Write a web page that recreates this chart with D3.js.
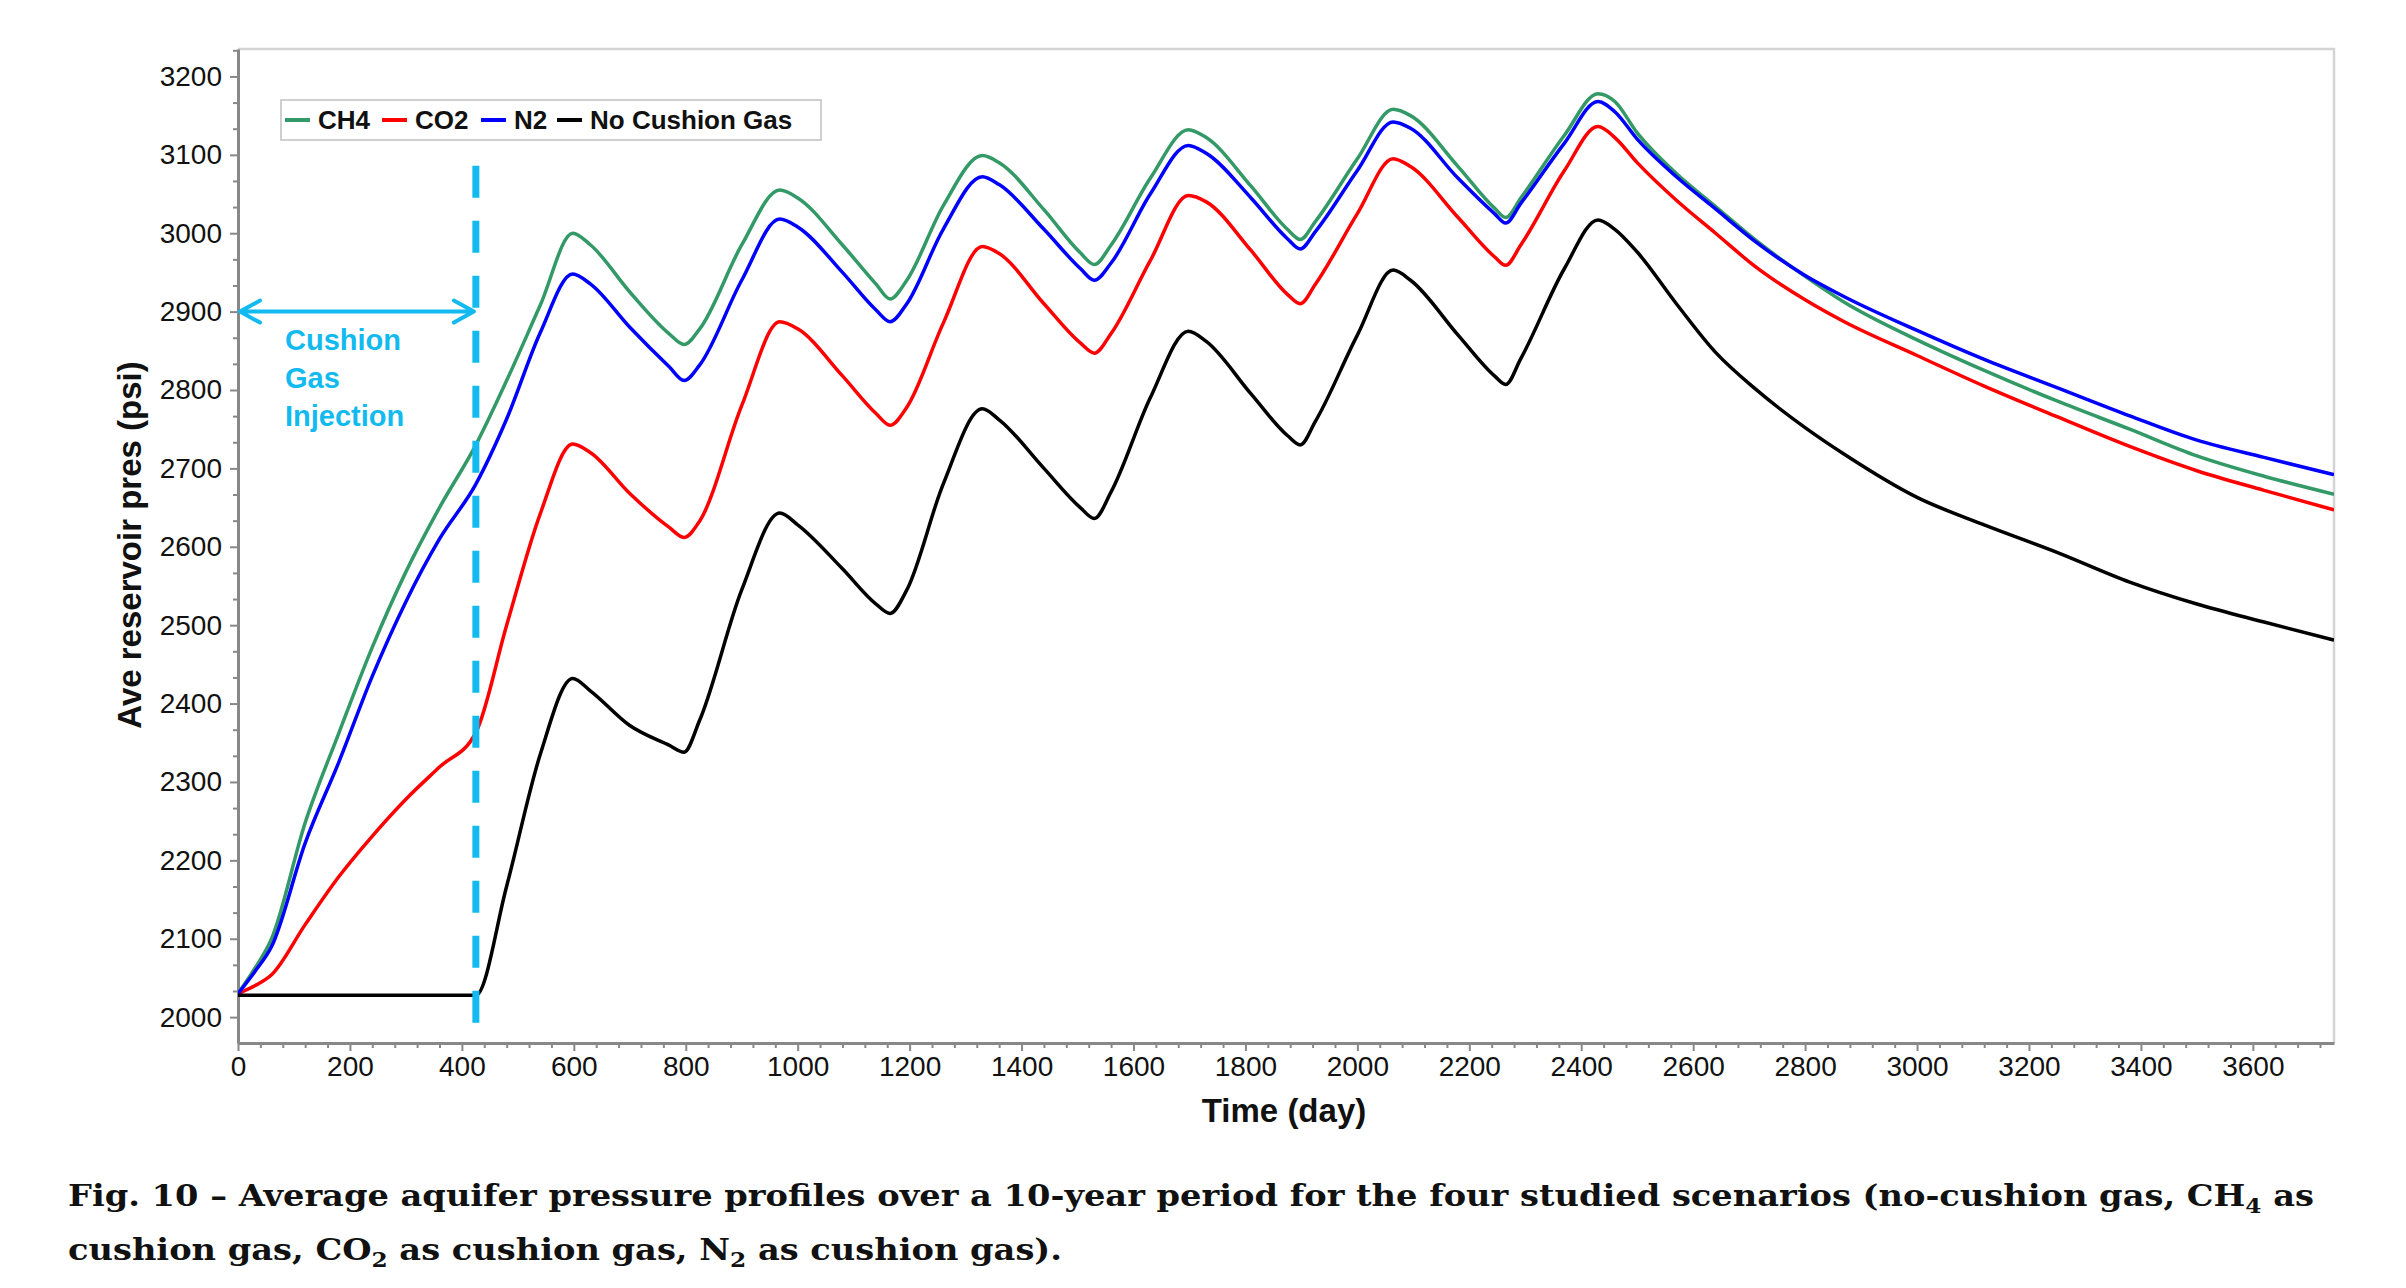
<!DOCTYPE html>
<html>
<head>
<meta charset="utf-8">
<script src="https://cdn.jsdelivr.net/npm/d3@7"></script>
<style>
  html, body { margin: 0; padding: 0; background: #fff; }
  svg { display: block; }
</style>
</head>
<body>
<svg id="chart" width="2406" height="1288"></svg>
<script>
// time axis (days) shared by every scenario
const days = [0, 30, 60, 120, 180, 240, 300, 360, 425,
  480, 540, 598, 630, 700, 770, 797, 825, 900, 968,
  1000, 1080, 1140, 1165, 1195, 1260, 1330, 1360, 1440, 1505,
  1530, 1560, 1630, 1698, 1730, 1810, 1875, 1898, 1925, 2000,
  2064, 2095, 2180, 2245, 2265, 2292, 2370, 2430, 2460, 2500,
  2570, 2640, 2710, 2800, 2870, 3000, 3120, 3250, 3380, 3500,
  3620, 3745];

// average reservoir pressure (psi)
const ch4 = [2030, 2062, 2100, 2248, 2362, 2472, 2568, 2650, 2730,
  2812, 2908, 3000, 2985, 2925, 2872, 2858, 2878, 2985, 3055,
  3045, 2985, 2935, 2916, 2940, 3035, 3099, 3090, 3030, 2975,
  2960, 2985, 3070, 3132, 3122, 3060, 3005, 2992, 3015, 3095,
  3158, 3150, 3085, 3032, 3020, 3045, 3125, 3178, 3168, 3128,
  3076, 3034, 2992, 2945, 2912, 2864, 2825, 2786, 2750, 2716,
  2690, 2667];

const co2 = [2030, 2040, 2054, 2118, 2179, 2231, 2278, 2319, 2363,
  2500, 2642, 2731, 2720, 2668, 2625, 2612, 2633, 2780, 2887,
  2878, 2818, 2770, 2755, 2778, 2885, 2983, 2974, 2910, 2860,
  2847, 2872, 2965, 3048, 3040, 2978, 2922, 2910, 2935, 3025,
  3095, 3085, 3020, 2970, 2959, 2985, 3080, 3136, 3122, 3090,
  3042, 3000, 2958, 2915, 2887, 2844, 2805, 2766, 2728, 2697,
  2672, 2647];

const n2 = [2030, 2058, 2090, 2222, 2325, 2435, 2530, 2610, 2680,
  2763, 2873, 2948, 2935, 2880, 2830, 2812, 2832, 2940, 3018,
  3008, 2950, 2902, 2887, 2910, 3005, 3072, 3062, 3005, 2955,
  2940, 2962, 3050, 3112, 3102, 3045, 2993, 2980, 3002, 3080,
  3142, 3134, 3070, 3025, 3013, 3038, 3115, 3168, 3155, 3120,
  3072, 3031, 2990, 2946, 2919, 2876, 2839, 2803, 2767, 2736,
  2714, 2692];

const noCushion = [2028, 2028, 2028, 2028, 2028, 2028, 2028, 2028, 2028,
  2167, 2335, 2432, 2416, 2372, 2347, 2338, 2379, 2545, 2643,
  2628, 2572, 2527, 2515, 2545, 2680, 2776, 2762, 2700, 2650,
  2636, 2670, 2790, 2875, 2862, 2795, 2742, 2730, 2760, 2870,
  2953, 2940, 2870, 2818, 2807, 2840, 2955, 3017, 3005, 2976,
  2910, 2848, 2802, 2752, 2718, 2663, 2628, 2593, 2555, 2527,
  2504, 2481];

const seriesNames = ["CH4", "CO2", "N2", "No Cushion Gas"];
const seriesColors = ["#339966", "#ff0000", "#0000ff", "#000000"];

const xTicks = [0, 200, 400, 600, 800, 1000, 1200, 1400, 1600, 1800,
  2000, 2200, 2400, 2600, 2800, 3000, 3200, 3400, 3600];
const yTicks = [2000, 2100, 2200, 2300, 2400, 2500, 2600, 2700, 2800,
  2900, 3000, 3100, 3200];

// cushion gas injection marker
const injectionEnd = 425;
const arrowLevel = 2900;
const markerRange = [1988, 3086];

const svg = d3.select("#chart");
const font = "'Liberation Sans', Arial, sans-serif";
const cyan = "#12baf0";

const margin = { left: 238, right: 72, top: 49, bottom: 245 };
const W = 2406, H = 1288;

const x = d3.scaleLinear().domain([0, 3745]).range([margin.left, W - margin.right]);
const y = d3.scaleLinear().domain([1967, 3235]).range([H - margin.bottom, margin.top]);

svg.append("rect").attr("width", W).attr("height", H).attr("fill", "#fff");

// light frame on top and right
svg.append("path")
  .attr("d", `M${x(0)},${y(3235)}H${x(3745)}V${y(1967)}`)
  .attr("fill", "none")
  .attr("stroke", "#d4d4d4")
  .attr("stroke-width", 2.5);

// minor ticks
const yMinor = [];
yTicks.forEach(v => { yMinor.push(v + 100 / 3, v + 200 / 3); });
const xMinor = [];
xTicks.forEach(v => { [40, 80, 120, 160].forEach(o => { if (v + o < 3745) xMinor.push(v + o); }); });

svg.append("g")
  .attr("transform", `translate(${x(0)},0)`)
  .call(d3.axisLeft(y).tickValues(yMinor.filter(v => v < 3235)).tickSize(5).tickSizeOuter(0).tickFormat(""))
  .call(g => g.select(".domain").remove())
  .call(g => g.selectAll("line").attr("stroke", "#888").attr("stroke-width", 2));

svg.append("g")
  .attr("transform", `translate(0,${y(1967)})`)
  .call(d3.axisBottom(x).tickValues(xMinor).tickSize(5).tickSizeOuter(0).tickFormat(""))
  .call(g => g.select(".domain").remove())
  .call(g => g.selectAll("line").attr("stroke", "#888").attr("stroke-width", 2));

// major axes
const yAxis = svg.append("g")
  .attr("transform", `translate(${x(0)},0)`)
  .call(d3.axisLeft(y).tickValues(yTicks).tickFormat(d3.format("d"))
    .tickSize(8).tickPadding(8).tickSizeOuter(0));

const xAxis = svg.append("g")
  .attr("transform", `translate(0,${y(1967)})`)
  .call(d3.axisBottom(x).tickValues(xTicks).tickFormat(d3.format("d"))
    .tickSize(8).tickPadding(5).tickSizeOuter(0));

[yAxis, xAxis].forEach(g => {
  g.select(".domain").attr("stroke", "#888").attr("stroke-width", 3);
  g.selectAll(".tick line").attr("stroke", "#888").attr("stroke-width", 2);
  g.selectAll(".tick text")
    .attr("fill", "#111")
    .style("font-family", font)
    .style("font-size", "28px");
});

// axis titles
svg.append("text")
  .attr("x", 1284).attr("y", 1122)
  .attr("text-anchor", "middle")
  .style("font-family", font).style("font-size", "33px").style("font-weight", "bold")
  .attr("fill", "#111")
  .text("Time (day)");

svg.append("text")
  .attr("transform", "translate(129,545) rotate(-90)")
  .attr("text-anchor", "middle")
  .attr("dy", "0.35em")
  .style("font-family", font).style("font-size", "33px").style("font-weight", "bold")
  .attr("fill", "#111")
  .text("Ave reservoir pres (psi)");

// pressure curves
svg.append("clipPath").attr("id", "plot-clip")
  .append("rect")
  .attr("x", x(0)).attr("y", y(3235))
  .attr("width", x(3745) - x(0)).attr("height", y(1967) - y(3235));

const line = d3.line()
  .x((d, i) => x(days[i]))
  .y(d => y(d))
  .curve(d3.curveMonotoneX);

const series = [ch4, co2, n2, noCushion];
const drawOrder = [0, 1, 2, 3];

svg.append("g").attr("clip-path", "url(#plot-clip)")
  .selectAll("path")
  .data(drawOrder)
  .join("path")
  .attr("d", k => line(series[k]))
  .attr("fill", "none")
  .attr("stroke", k => seriesColors[k])
  .attr("stroke-width", 3.5)
  .attr("stroke-linejoin", "round");

// injection end marker
svg.append("line")
  .attr("x1", x(injectionEnd)).attr("x2", x(injectionEnd))
  .attr("y1", y(markerRange[1])).attr("y2", y(markerRange[0]))
  .attr("stroke", cyan)
  .attr("stroke-width", 7)
  .attr("stroke-dasharray", "32 23");

// double arrow
const ay = y(arrowLevel);
const ax0 = x(0) + 2, ax1 = x(injectionEnd) - 2;
svg.append("path")
  .attr("d", `M${ax0},${ay}H${ax1}` +
    `M${ax0 + 20},${ay - 11}L${ax0},${ay}L${ax0 + 20},${ay + 11}` +
    `M${ax1 - 20},${ay - 11}L${ax1},${ay}L${ax1 - 20},${ay + 11}`)
  .attr("fill", "none")
  .attr("stroke", cyan)
  .attr("stroke-width", 4)
  .attr("stroke-linecap", "round")
  .attr("stroke-linejoin", "round");

svg.append("text")
  .attr("x", 285).attr("y", 350)
  .style("font-family", font).style("font-size", "29px").style("font-weight", "bold")
  .attr("fill", cyan)
  .selectAll("tspan")
  .data(["Cushion", "Gas", "Injection"])
  .join("tspan")
  .attr("x", 285)
  .attr("dy", (d, i) => i === 0 ? 0 : 38)
  .text(d => d);

// legend
const legend = svg.append("g");
legend.append("rect")
  .attr("x", 281).attr("y", 100).attr("width", 540).attr("height", 40)
  .attr("fill", "#fff").attr("stroke", "#cfcfcf").attr("stroke-width", 2);

const legendX = [285, 382, 481, 557];
seriesNames.forEach((name, i) => {
  legend.append("line")
    .attr("x1", legendX[i]).attr("x2", legendX[i] + 25)
    .attr("y1", 120).attr("y2", 120)
    .attr("stroke", seriesColors[i]).attr("stroke-width", 4);
  legend.append("text")
    .attr("x", legendX[i] + 33).attr("y", 120).attr("dy", "0.35em")
    .style("font-family", font).style("font-size", "26px").style("font-weight", "bold")
    .attr("fill", "#111")
    .text(name);
});

// caption
const capFont = "'DejaVu Serif', 'Liberation Serif', serif";
function caption(parts, yPos, width) {
  const t = svg.append("text")
    .attr("x", 68).attr("y", yPos)
    .attr("textLength", width).attr("lengthAdjust", "spacingAndGlyphs")
    .style("font-family", capFont).style("font-size", "29px").style("font-weight", "bold")
    .attr("fill", "#111");
  let shift = 0;
  parts.forEach(p => {
    const s = t.append("tspan").text(p.text);
    if (p.sub) {
      s.attr("dy", 7).style("font-size", "20px");
      shift = -7;
    } else if (shift) {
      s.attr("dy", shift);
      shift = 0;
    }
  });
}
caption([
  { text: "Fig. 10 \u2013 Average aquifer pressure profiles over a 10-year period for the four studied scenarios (no-cushion gas, CH" },
  { text: "4", sub: true },
  { text: " as" }
], 1206, 2246);
caption([
  { text: "cushion gas, CO" }, { text: "2", sub: true },
  { text: " as cushion gas, N" }, { text: "2", sub: true },
  { text: " as cushion gas)." }
], 1260, 994);
</script>
</body>
</html>
